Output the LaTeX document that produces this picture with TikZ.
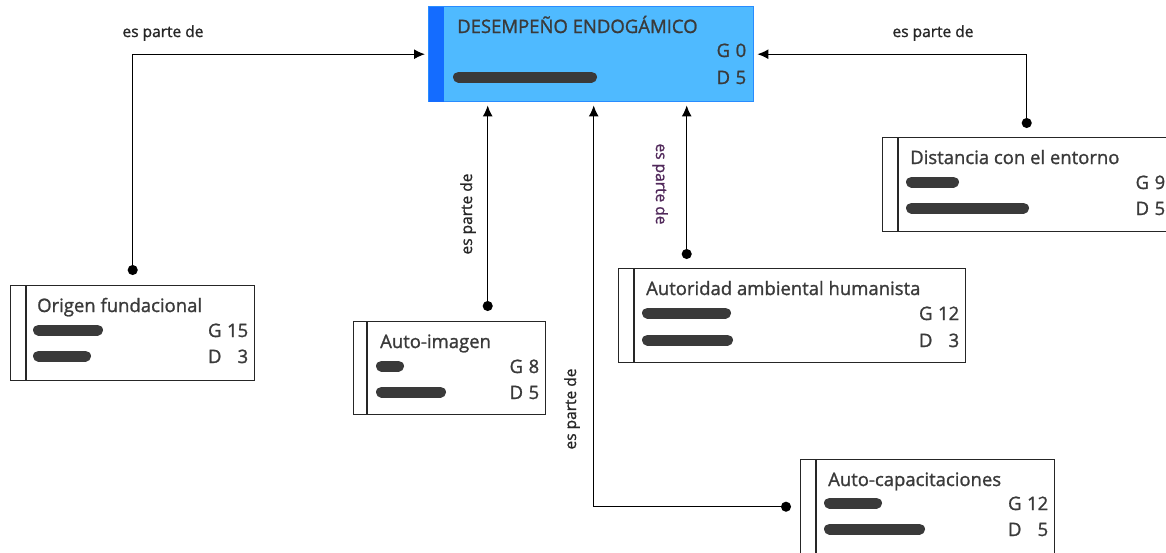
\documentclass[tikz,border=0pt]{standalone}
\usepackage{fontspec}
\setmainfont{Open Sans}[UprightFeatures={FakeBold=1.2}]
\usetikzlibrary{arrows.meta,positioning}
\definecolor{celeste}{RGB}{79,186,255}
\definecolor{azulfuerte}{RGB}{20,108,255}
\definecolor{azulborde}{RGB}{40,140,255}
\definecolor{gristexto}{RGB}{58,58,58}
\definecolor{morado}{RGB}{80,40,90}

\begin{document}
\begin{tikzpicture}[x=1pt,y=-1pt,font=\fontsize{18.5}{22}\selectfont]
    \tikzset{
      caja/.style={draw=black!85,line width=1.4pt,fill=white,anchor=north west,inner sep=0pt},
      titulo/.style={anchor=base west,inner sep=0pt,text=gristexto},
      dato/.style={anchor=base east,inner sep=0pt,text=gristexto},
      barra/.style={line width=11pt,line cap=round,draw=gristexto},
      rel/.style={line width=1.3pt,{Circle[length=10pt]}-{Latex[length=11pt,width=10pt]},shorten >=3pt},
      etiqueta/.style={inner sep=0pt,text=black!85,font=\fontsize{15.5}{18}\selectfont}
    }
    \useasboundingbox (0,0) rectangle (1166,552);

    % nodo central
    \node[caja,fill=celeste,draw=azulborde,minimum width=325pt,minimum height=95pt] (m) at (428,6) {};
    \fill[azulfuerte] ([xshift=0.7pt,yshift=-0.7pt]m.north west) rectangle ([xshift=16pt,yshift=0.7pt]m.south west);
    \node[titulo] (m-t) at ([xshift=29pt,yshift=-27pt]m.north west) {DESEMPEÑO ENDOGÁMICO};
    \draw[barra] ([xshift=30.5pt,yshift=-71pt]m.north west) -- ++(133pt,0);
    \node[dato] (m-g) at ([xshift=-8pt,yshift=-51pt]m.north east) {G\hspace{0.3em}0};
    \node[dato] (m-d) at ([xshift=-8pt,yshift=-78pt]m.north east) {D\hspace{0.3em}5};

    % Origen fundacional
    \node[caja,minimum width=244pt,minimum height=95pt] (o) at (10,285) {};
    \draw[line width=1.4pt,black!85] ([xshift=16pt]o.north west) -- ([xshift=16pt]o.south west);
    \node[titulo] (o-t) at ([xshift=27pt,yshift=-27pt]o.north west) {Origen fundacional};
    \draw[barra] ([xshift=28.5pt,yshift=-45pt]o.north west) -- ++(59pt,0);
    \draw[barra] ([xshift=28.5pt,yshift=-71pt]o.north west) -- ++(47pt,0);
    \node[dato] (o-g) at ([xshift=-7pt,yshift=-52pt]o.north east) {G\hspace{0.3em}15};
    \node[dato] (o-d) at ([xshift=-7pt,yshift=-78pt]o.north east) {D\hspace{0.3em}\phantom{1}3};

    % Auto-imagen
    \node[caja,minimum width=192pt,minimum height=93pt] (a) at (353,321) {};
    \draw[line width=1.4pt,black!85] ([xshift=14pt]a.north west) -- ([xshift=14pt]a.south west);
    \node[titulo] (a-t) at ([xshift=27pt,yshift=-27pt]a.north west) {Auto-imagen};
    \draw[barra] ([xshift=28.5pt,yshift=-45pt]a.north west) -- ++(17pt,0);
    \draw[barra] ([xshift=28.5pt,yshift=-71pt]a.north west) -- ++(59pt,0);
    \node[dato] (a-g) at ([xshift=-7pt,yshift=-52pt]a.north east) {G\hspace{0.3em}8};
    \node[dato] (a-d) at ([xshift=-7pt,yshift=-78pt]a.north east) {D\hspace{0.3em}5};

    % Autoridad ambiental humanista
    \node[caja,minimum width=347pt,minimum height=94pt] (h) at (618,268) {};
    \draw[line width=1.4pt,black!85] ([xshift=16pt]h.north west) -- ([xshift=16pt]h.south west);
    \node[titulo] (h-t) at ([xshift=28pt,yshift=-27pt]h.north west) {Autoridad ambiental humanista};
    \draw[barra] ([xshift=29.5pt,yshift=-45pt]h.north west) -- ++(78pt,0);
    \draw[barra] ([xshift=29.5pt,yshift=-72pt]h.north west) -- ++(80pt,0);
    \node[dato] (h-g) at ([xshift=-7pt,yshift=-52pt]h.north east) {G\hspace{0.3em}12};
    \node[dato] (h-d) at ([xshift=-7pt,yshift=-79pt]h.north east) {D\hspace{0.3em}\phantom{1}3};

    % Distancia con el entorno
    \node[caja,minimum width=288pt,minimum height=94pt] (d) at (882,137) {};
    \draw[line width=1.4pt,black!85] ([xshift=16pt]d.north west) -- ([xshift=16pt]d.south west);
    \node[titulo] (d-t) at ([xshift=28pt,yshift=-27pt]d.north west) {Distancia con el entorno};
    \draw[barra] ([xshift=29.5pt,yshift=-45pt]d.north west) -- ++(42pt,0);
    \draw[barra] ([xshift=29.5pt,yshift=-71pt]d.north west) -- ++(112pt,0);
    \node[dato] (d-g) at ([xshift=-6pt,yshift=-52pt]d.north east) {G\hspace{0.3em}9};
    \node[dato] (d-d) at ([xshift=-6pt,yshift=-78pt]d.north east) {D\hspace{0.3em}5};

    % Auto-capacitaciones
    \node[caja,minimum width=254pt,minimum height=94pt] (c) at (800,459) {};
    \draw[line width=1.4pt,black!85] ([xshift=16pt]c.north west) -- ([xshift=16pt]c.south west);
    \node[titulo] (c-t) at ([xshift=28pt,yshift=-27pt]c.north west) {Auto-capacitaciones};
    \draw[barra] ([xshift=29.5pt,yshift=-44pt]c.north west) -- ++(47pt,0);
    \draw[barra] ([xshift=29.5pt,yshift=-70pt]c.north west) -- ++(90pt,0);
    \node[dato] (c-g) at ([xshift=-7pt,yshift=-51pt]c.north east) {G\hspace{0.3em}12};
    \node[dato] (c-d) at ([xshift=-7pt,yshift=-77pt]c.north east) {D\hspace{0.3em}\phantom{1}5};

    % relaciones
    \draw[rel,shorten <=10pt] (o.north) |- (m.west);
    \draw[rel,shorten <=9pt] (d.north) |- (m.east);
    \draw[rel,shorten <=10pt] ([xshift=38pt]a.north) -- ([xshift=38pt]a.north |- m.south);
    \draw[rel,shorten <=9pt] ([xshift=-105.5pt]h.north) -- ([xshift=-105.5pt]h.north |- m.south);
    \draw[rel,shorten <=9pt] (c.west) -| ([xshift=2.5pt]m.south);

    \node[etiqueta] (e1) at (163,33) {es parte de};
    \node[etiqueta] (e2) at (933,33) {es parte de};
    \node[etiqueta,rotate=90] (e3) at (468,214) {es parte de};
    \node[etiqueta,rotate=-90,text=morado] (e4) at (660,184) {es parte de};
    \node[etiqueta,rotate=90] (e5) at (572,409) {es parte de};
\end{tikzpicture}
\end{document}
